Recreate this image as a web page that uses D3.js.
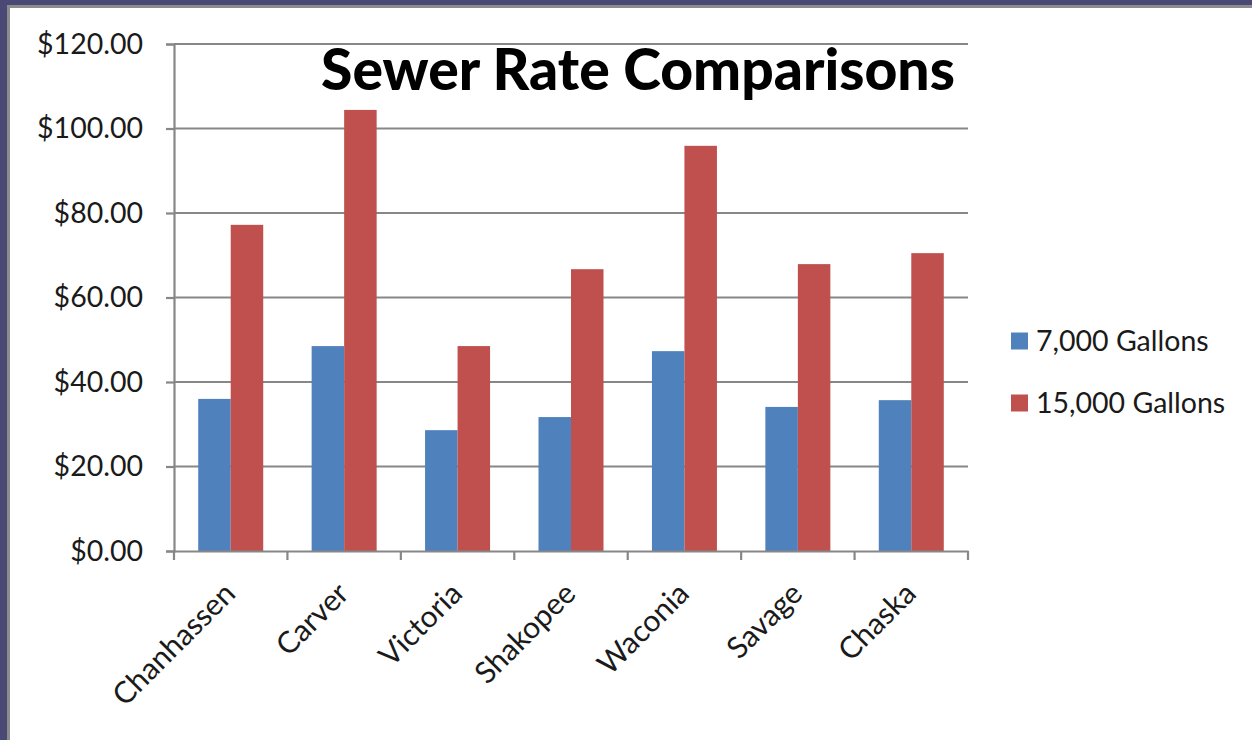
<!DOCTYPE html>
<html>
<head>
<meta charset="utf-8">
<script src="https://cdn.jsdelivr.net/npm/d3@7"></script>
<style>
  html, body { margin: 0; padding: 0; background: #fff; }
  svg { display: block; }
</style>
</head>
<body>
<script>
// Sewer rates by city, monthly bill at two usage levels
const cities = ["Chanhassen", "Carver", "Victoria", "Shakopee", "Waconia", "Savage", "Chaska"];
const seriesNames = ["7,000 Gallons", "15,000 Gallons"];
const gallons7000 = [36.0, 48.5, 28.6, 31.7, 47.3, 34.1, 35.7];
const gallons15000 = [77.2, 104.4, 48.5, 66.7, 95.9, 67.9, 70.5];
const yTicks = [0, 20, 40, 60, 80, 100, 120];
const seriesColors = ["#4f81bd", "#c0504d"];

const W = 1252, H = 740;
const plot = { left: 174, right: 968, top: 44, bottom: 551 };
const font = "Lato, 'Open Sans', sans-serif";
const labelSize = 28.5;

const svg = d3.select("body").append("svg").attr("width", W).attr("height", H);

// slide frame
svg.append("rect").attr("width", W).attr("height", H).attr("fill", "#4a4975");
svg.append("rect").attr("x", 7).attr("y", 5).attr("width", W - 7).attr("height", H - 5).attr("fill", "#8c8c8c");
svg.append("rect").attr("x", 10).attr("y", 8).attr("width", W - 10).attr("height", H - 8).attr("fill", "#ffffff");

const x0 = d3.scaleBand().domain(cities).range([plot.left, plot.right]).paddingInner(0).paddingOuter(0);
const x1 = d3.scaleBand().domain(seriesNames).range([0, x0.bandwidth()]).paddingInner(0).paddingOuter(0.745);
const y = d3.scaleLinear().domain([0, 120]).range([plot.bottom, plot.top]);

const grid = "#878787";

// horizontal gridlines
svg.append("g").selectAll("line").data(yTicks.filter(d => d > 0)).join("line")
  .attr("x1", plot.left).attr("x2", plot.right)
  .attr("y1", d => y(d)).attr("y2", d => y(d))
  .attr("stroke", grid).attr("stroke-width", 2.2);

// y axis
const yAxis = svg.append("g").attr("transform", `translate(${plot.left},0)`)
  .call(d3.axisLeft(y).tickValues(yTicks).tickSize(8).tickPadding(23)
    .tickFormat(d => "$" + d3.format(".2f")(d)));
yAxis.select(".domain").attr("stroke", grid).attr("stroke-width", 2.2);
yAxis.selectAll(".tick line").attr("stroke", grid).attr("stroke-width", 2.2);
yAxis.selectAll(".tick text").attr("font-family", font).attr("font-size", labelSize).attr("fill", "#1a1a1a");

// bars
const groups = svg.append("g").selectAll("g").data(cities).join("g")
  .attr("transform", d => `translate(${x0(d)},0)`);
groups.selectAll("rect")
  .data((c, i) => [gallons7000[i], gallons15000[i]].map((v, k) => ({ k, v })))
  .join("rect")
  .attr("x", d => x1(seriesNames[d.k]))
  .attr("width", x1.bandwidth())
  .attr("y", d => y(d.v))
  .attr("height", d => y(0) - y(d.v))
  .attr("fill", d => seriesColors[d.k]);

// x axis
const xAxis = svg.append("g").attr("transform", `translate(0,${plot.bottom})`)
  .call(d3.axisBottom(x0).tickSize(0).tickFormat(""));
xAxis.select(".domain").attr("stroke", grid).attr("stroke-width", 2.2);
xAxis.selectAll(".tick").remove();
const bounds = cities.map(c => x0(c)).concat([plot.right]);
xAxis.selectAll("line.sep").data(bounds).join("line").attr("class", "sep")
  .attr("x1", d => d).attr("x2", d => d).attr("y1", 0).attr("y2", 9)
  .attr("stroke", grid).attr("stroke-width", 2.2);

// rotated category labels
svg.append("g").selectAll("text").data(cities).join("text")
  .attr("transform", d => `translate(${x0(d) + x0.bandwidth() / 2 - 1},${plot.bottom + 37}) rotate(-45)`)
  .attr("text-anchor", "end")
  .attr("dy", "0.35em")
  .attr("font-family", font).attr("font-size", 30).attr("fill", "#1a1a1a")
  .text(d => d);

// title
svg.append("text").attr("x", 638).attr("y", 90).attr("text-anchor", "middle")
  .attr("font-family", font).attr("font-weight", 900).attr("font-size", 57)
  .attr("fill", "#000").text("Sewer Rate Comparisons");

// legend
const legend = svg.append("g").attr("transform", "translate(1011,341)");
const li = legend.selectAll("g").data(seriesNames).join("g")
  .attr("transform", (d, i) => `translate(0,${i * 62})`);
li.append("rect").attr("x", 0).attr("y", -8.5).attr("width", 17).attr("height", 17)
  .attr("fill", (d, i) => seriesColors[i]);
li.append("text").attr("x", 25).attr("dy", "0.35em")
  .attr("font-family", font).attr("font-size", labelSize).attr("fill", "#1a1a1a").text(d => d);
</script>
</body>
</html>
